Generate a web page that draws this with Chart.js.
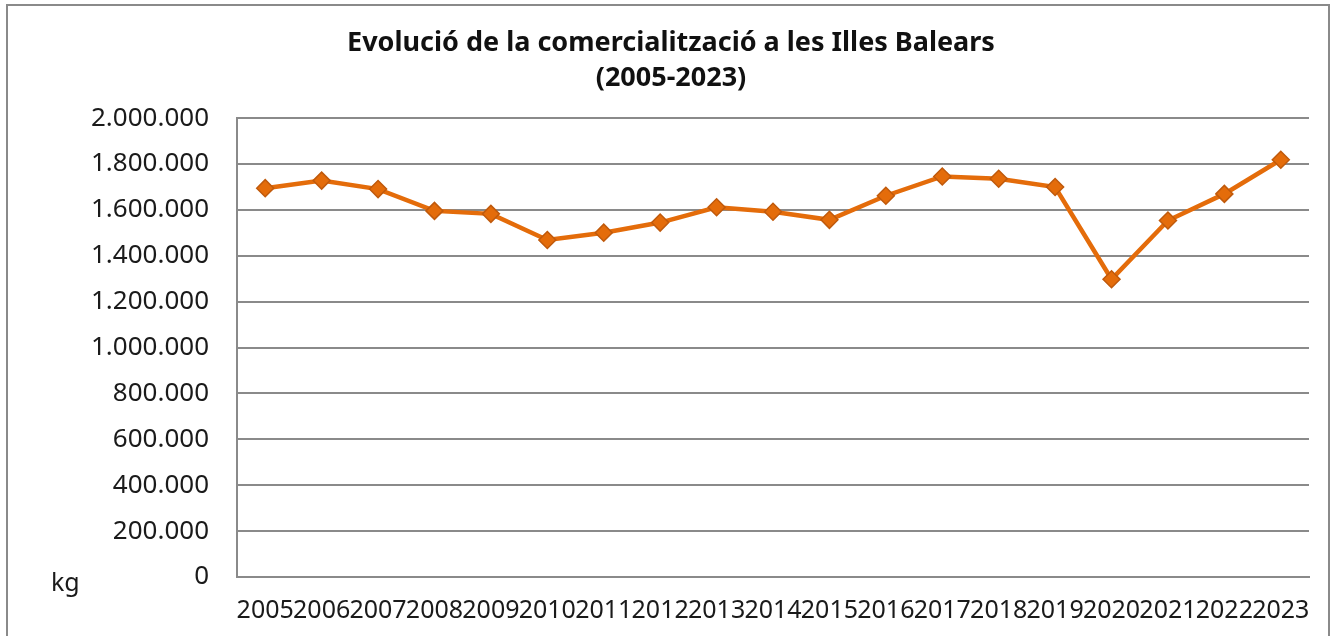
<!DOCTYPE html>
<html>
<head>
<meta charset="utf-8">
<script src="https://cdn.jsdelivr.net/npm/chart.js@4.4.1/dist/chart.umd.min.js"></script>
<style>
  html, body { margin: 0; padding: 0; background: #fff; overflow: hidden; }
  #wrap { position: relative; width: 1337px; height: 636px; }
  #frame { position: absolute; left: 6px; top: 4px; width: 1324px; height: 660px; border: 2px solid #8a8a8a; box-sizing: border-box; }
  canvas { position: absolute; left: 0; top: 0; }
</style>
</head>
<body>
<div id="wrap">
  <div id="frame"></div>
  <canvas id="chart" width="1337" height="636"></canvas>
</div>
<script>
// anys i quilos comercialitzats (llegits del gràfic)
const years = ['2005','2006','2007','2008','2009','2010','2011','2012','2013','2014',
               '2015','2016','2017','2018','2019','2020','2021','2022','2023'];
const kgValues = [1695000, 1728000, 1691000, 1596000, 1583000, 1469000, 1501000, 1545000, 1612000, 1592000,
                  1557000, 1662000, 1746000, 1736000, 1700000, 1298000, 1554000, 1670000, 1819000];
const titleLines = ['Evolució de la comercialització a les Illes Balears', '(2005-2023)'];
const unitLabel = 'kg';

function fmtThousands(v) {
  return String(Math.round(v)).replace(/\B(?=(\d{3})+(?!\d))/g, '.');
}

// etiqueta "kg" a l'esquerra, a l'altura de l'eix X
const unitPlugin = {
  id: 'unitLabel',
  afterDraw(chart) {
    const ctx = chart.ctx;
    ctx.save();
    ctx.font = '25px "Noto Sans"';
    ctx.fillStyle = '#1a1a1a';
    ctx.textAlign = 'left';
    ctx.textBaseline = 'middle';
    ctx.fillText(unitLabel, 51, chart.chartArea.bottom + 7);
    ctx.restore();
  }
};

new Chart(document.getElementById('chart'), {
  type: 'line',
  data: {
    labels: years,
    datasets: [{
      data: kgValues,
      borderColor: '#E46C0A',
      backgroundColor: '#E46C0A',
      borderWidth: 4.5,
      pointStyle: 'rectRot',
      pointRadius: 8.5,
      pointBorderColor: '#C05A0C',
      pointBorderWidth: 1.5,
      pointBackgroundColor: '#E46C0A',
      tension: 0
    }]
  },
  options: {
    responsive: false,
    animation: false,
    layout: { padding: { left: 33, right: 28, top: 0, bottom: 0 } },
    plugins: {
      legend: { display: false },
      tooltip: { enabled: false },
      title: {
        display: true,
        text: titleLines,
        color: '#111',
        font: { family: '"Noto Sans"', size: 27, weight: 'bold', lineHeight: 1.3 },
        padding: { top: 26, bottom: 22 }
      }
    },
    scales: {
      x: {
        offset: true,
        afterFit(scale) { scale.height = 59; },
        grid: { display: false, drawTicks: false },
        border: { display: true, color: '#8a8a8a', width: 2 },
        ticks: {
          autoSkip: false, maxRotation: 0, minRotation: 0,
          padding: 19, color: '#1a1a1a',
          font: { family: '"Noto Sans"', size: 25 }
        }
      },
      y: {
        min: 0, max: 2000000,
        afterFit(scale) { scale.width = 204; },
        grid: { color: '#8a8a8a', lineWidth: 2, drawTicks: false },
        border: { display: true, color: '#8a8a8a', width: 2 },
        ticks: {
          stepSize: 200000, padding: 28, color: '#1a1a1a',
          font: { family: '"Noto Sans"', size: 26 },
          callback: v => fmtThousands(v)
        }
      }
    }
  },
  plugins: [unitPlugin]
});
</script>
</body>
</html>
